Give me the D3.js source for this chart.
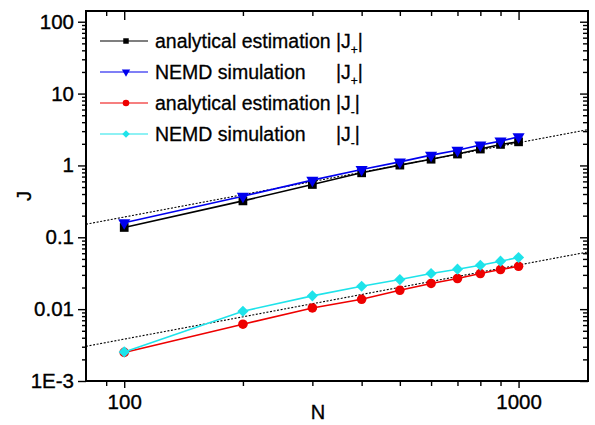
<!DOCTYPE html>
<html>
<head>
<meta charset="utf-8">
<script src="https://cdn.jsdelivr.net/npm/d3@7"></script>
<style>
  body { margin: 0; background: #fff; }
  svg { display: block; font-family: "Liberation Sans", Arial, sans-serif; }
</style>
</head>
<body>
<svg width="595" height="425"></svg>
<script>
// data
const N = [100, 200, 300, 400, 500, 600, 700, 800, 900, 1000];
const analyticPlus = [0.137, 0.321, 0.543, 0.789, 1.01, 1.22, 1.44, 1.69, 1.96, 2.13];
const nemdPlus = [0.159, 0.373, 0.624, 0.879, 1.12, 1.39, 1.63, 1.92, 2.18, 2.50];
const analyticMinus = [0.0025, 0.00617, 0.0104, 0.0137, 0.0183, 0.0228, 0.0267, 0.0313, 0.0356, 0.0395];
const nemdMinus = [0.00254, 0.00935, 0.0153, 0.0208, 0.0258, 0.0313, 0.0360, 0.0408, 0.0465, 0.0524];
const fitPlus = [[80, 0.152], [1500, 3.15]];
const fitMinus = [[80, 0.00304], [1500, 0.0625]];

const xMajor = [100, 1000];
const xMajorLabels = ["100", "1000"];
const xMinor = [90, 200, 300, 400, 500, 600, 700, 800, 900];
const yMajor = [100, 10, 1, 0.1, 0.01, 0.001];
const yMajorLabels = ["100", "10", "1", "0.1", "0.01", "1E-3"];

const series = [
  {label: "analytical estimation", sub: "+", values: analyticPlus, color: "#000000", symbol: "square"},
  {label: "NEMD simulation", sub: "+", values: nemdPlus, color: "#0000ee", symbol: "triangle"},
  {label: "analytical estimation", sub: "-", values: analyticMinus, color: "#ee0000", symbol: "circle"},
  {label: "NEMD simulation", sub: "-", values: nemdMinus, color: "#1ee3ea", symbol: "diamond"}
];

const svg = d3.select("svg");
const plotLeft = 86, plotRight = 588, plotTop = 11, plotBottom = 381;

const x = d3.scaleLog().domain([80, 1500]).range([plotLeft, plotRight]);
const y = d3.scaleLog().domain([1e-3, 141]).range([plotBottom, plotTop]);

// minor y ticks: 2..9 of each decade
const yMinor = [];
[1e-3, 1e-2, 1e-1, 1, 10].forEach(d => {
  for (let k = 2; k <= 9; k++) yMinor.push(d * k);
});

function markerPath(type, size) {
  if (type === "square") return d3.symbol(d3.symbolSquare, size)();
  if (type === "triangle") return d3.symbol(d3.symbolTriangle, size)();
  if (type === "circle") return d3.symbol(d3.symbolCircle, size)();
  return d3.symbol(d3.symbolSquare, size)();
}
function markerRotate(type) {
  if (type === "triangle") return 180;
  if (type === "diamond") return 45;
  return 0;
}
const markerSize = {square: 76, triangle: 64, circle: 72, diamond: 62};
const legendSize = {square: 30, triangle: 30, circle: 34, diamond: 28};

function noLabel() { return ""; }

// bottom (outward)
svg.append("g").attr("transform", `translate(0,${plotBottom})`)
  .call(d3.axisBottom(x).tickValues(xMajor).tickSize(7).tickPadding(6)
    .tickFormat((d, i) => xMajorLabels[i]));
svg.append("g").attr("transform", `translate(0,${plotBottom})`)
  .call(d3.axisBottom(x).tickValues(xMinor).tickSize(5).tickFormat(noLabel));
// top (inward)
svg.append("g").attr("transform", `translate(0,${plotTop})`)
  .call(d3.axisBottom(x).tickValues(xMajor).tickSize(9).tickFormat(noLabel));
svg.append("g").attr("transform", `translate(0,${plotTop})`)
  .call(d3.axisBottom(x).tickValues(xMinor).tickSize(5).tickFormat(noLabel));
// left (outward)
svg.append("g").attr("transform", `translate(${plotLeft},0)`)
  .call(d3.axisLeft(y).tickValues(yMajor).tickSize(8).tickPadding(4)
    .tickFormat((d, i) => yMajorLabels[i]));
svg.append("g").attr("transform", `translate(${plotLeft},0)`)
  .call(d3.axisLeft(y).tickValues(yMinor).tickSize(4).tickFormat(noLabel));
// right (inward)
svg.append("g").attr("transform", `translate(${plotRight},0)`)
  .call(d3.axisLeft(y).tickValues(yMajor).tickSize(8).tickFormat(noLabel));
svg.append("g").attr("transform", `translate(${plotRight},0)`)
  .call(d3.axisLeft(y).tickValues(yMinor).tickSize(5).tickFormat(noLabel));

svg.selectAll(".domain").remove();
svg.selectAll(".tick line").attr("stroke", "#000").attr("stroke-width", 1.4);
svg.selectAll(".tick text")
  .attr("font-family", "'Liberation Sans', Arial, sans-serif")
  .attr("font-size", 20.5).attr("fill", "#000")
  .attr("stroke", "#000").attr("stroke-width", 0.35);

// frame
svg.append("rect")
  .attr("x", plotLeft).attr("y", plotTop)
  .attr("width", plotRight - plotLeft).attr("height", plotBottom - plotTop)
  .attr("fill", "none").attr("stroke", "#000").attr("stroke-width", 2);

// axis titles
svg.append("text")
  .attr("x", 318).attr("y", 419)
  .attr("text-anchor", "middle").attr("font-size", 20)
  .attr("stroke", "#000").attr("stroke-width", 0.35)
  .text("N");
svg.append("text")
  .attr("transform", "translate(31,196) rotate(-90)")
  .attr("text-anchor", "middle").attr("font-size", 20)
  .attr("stroke", "#000").attr("stroke-width", 0.35)
  .text("J");

// dotted fit lines
const line = d3.line().x(d => x(d[0])).y(d => y(d[1]));
[fitPlus, fitMinus].forEach(f => {
  svg.append("path")
    .attr("d", line(f))
    .attr("fill", "none").attr("stroke", "#000")
    .attr("stroke-width", 1.1).attr("stroke-dasharray", "2,1.6");
});

// series
series.forEach(s => {
  const pts = N.map((n, i) => [n, s.values[i]]);
  const g = svg.append("g");
  g.append("path")
    .attr("d", line(pts))
    .attr("fill", "none").attr("stroke", s.color).attr("stroke-width", 1.6);
  g.selectAll("path.m")
    .data(pts).enter()
    .append("path")
    .attr("class", "m")
    .attr("d", markerPath(s.symbol, markerSize[s.symbol]))
    .attr("transform", d => `translate(${x(d[0])},${y(d[1])}) rotate(${markerRotate(s.symbol)})`)
    .attr("fill", s.color);
});

// legend
const legend = svg.append("g");
series.forEach((s, i) => {
  const cy = 41 + i * 31;
  const row = legend.append("g").attr("transform", `translate(0,${cy})`);
  row.append("line")
    .attr("x1", 100).attr("x2", 148).attr("y1", 0).attr("y2", 0)
    .attr("stroke", s.color).attr("stroke-width", 1.2);
  row.append("path")
    .attr("d", markerPath(s.symbol, legendSize[s.symbol]))
    .attr("transform", `translate(126,0) rotate(${markerRotate(s.symbol)})`)
    .attr("fill", s.color);
  const t = row.append("text")
    .attr("x", 155).attr("y", 7)
    .attr("font-size", 19.5).attr("fill", "#000")
    .attr("stroke", "#000").attr("stroke-width", 0.3);
  t.append("tspan").text(s.label);
  t.append("tspan").attr("x", 336).text("|J");
  t.append("tspan").attr("dy", 6).attr("font-size", 12).text(s.sub);
  t.append("tspan").attr("dy", -6).text("|");
});
</script>
</body>
</html>
